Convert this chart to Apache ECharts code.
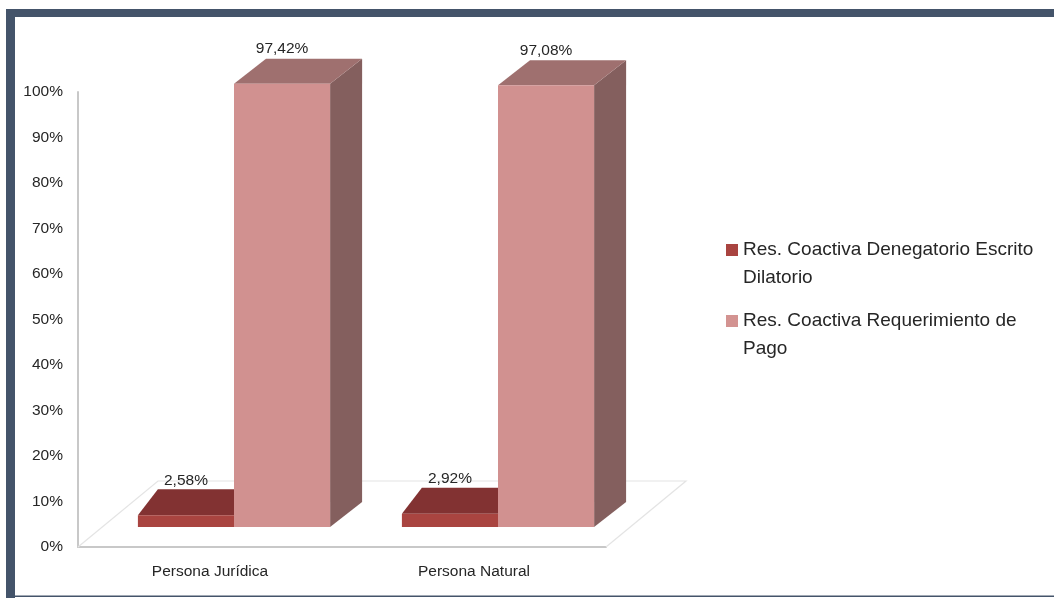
<!DOCTYPE html>
<html>
<head>
<meta charset="utf-8">
<script src="https://cdn.jsdelivr.net/npm/echarts@6/dist/echarts.min.js"></script>
<style>
  html, body { margin: 0; padding: 0; background: #ffffff; }
  #chart { position: absolute; left: 0; top: 0; width: 1054px; height: 598px; }
</style>
</head>
<body>
<div id="chart"></div>
<script>
// Categories and series values (percent)
const categories = ['Persona Jurídica', 'Persona Natural'];
const nameDenegatorio = 'Res. Coactiva Denegatorio Escrito Dilatorio';
const nameRequerimiento = 'Res. Coactiva Requerimiento de Pago';
const denegatorio = [2.58, 2.92];
const requerimiento = [97.42, 97.08];
// Value axis ticks
const yMin = 0, yMax = 100, yStep = 10;

const FONT = '"Liberation Sans", Arial, sans-serif';
const TEXT = '#262626';

// Oblique projection settings for the pseudo-3D boxes
const FRONT_SHIFT = [24, -20];   // bars stand a little behind the floor's front edge
const FLOOR_DEPTH = [80, -66];   // depth of the floor
const BAR_RATIO = 0.364;         // bar width as a share of the category band

function fmt(v) {
  return v.toFixed(2).replace('.', ',') + '%';
}

function boxRenderer(slot, depth, colors) {
  return function (params, api) {
    const cat = api.value(0);
    const val = api.value(1);
    const base = api.coord([cat, 0]);
    const top = api.coord([cat, val]);
    const band = api.size([1, 0])[0];
    const bw = band * BAR_RATIO;
    const cx = base[0] + FRONT_SHIFT[0];
    const x0 = slot === 0 ? cx - bw : cx;
    const x1 = x0 + bw;
    const yb = base[1] + FRONT_SHIFT[1];
    const yt = top[1] + FRONT_SHIFT[1];
    const dx = depth[0], dy = depth[1];
    return {
      type: 'group',
      children: [
        { type: 'polygon', shape: { points: [[x1, yt], [x1 + dx, yt + dy], [x1 + dx, yb + dy], [x1, yb]] },
          style: { fill: colors.side } },
        { type: 'polygon', shape: { points: [[x0, yt], [x1, yt], [x1 + dx, yt + dy], [x0 + dx, yt + dy]] },
          style: { fill: colors.top } },
        { type: 'rect', shape: { x: x0, y: yt, width: bw, height: yb - yt },
          style: { fill: colors.front } },
        { type: 'text', z2: 10,
          style: { text: fmt(val), x: (x0 + x1) / 2, y: yt - 35, align: 'center', verticalAlign: 'middle',
                   font: '15.5px ' + FONT, fill: TEXT } }
      ]
    };
  };
}

function floorRenderer(params, api) {
  const cs = params.coordSys;
  const fl = [cs.x, cs.y + cs.height];
  const fr = [cs.x + cs.width, cs.y + cs.height];
  const bl = [fl[0] + FLOOR_DEPTH[0], fl[1] + FLOOR_DEPTH[1]];
  const br = [fr[0] + FLOOR_DEPTH[0], fr[1] + FLOOR_DEPTH[1]];
  return {
    type: 'polyline',
    shape: { points: [fl, bl, br, fr] },
    style: { stroke: '#e4e4e4', lineWidth: 1.2, fill: null }
  };
}

const chart = echarts.init(document.getElementById('chart'), null, { renderer: 'canvas' });

chart.setOption({
  backgroundColor: '#ffffff',
  animation: false,
  textStyle: { fontFamily: FONT },
  graphic: [
    { type: 'rect', shape: { x: 6, y: 9, width: 1048, height: 8 }, style: { fill: '#44546a' }, z: 100 },
    { type: 'rect', shape: { x: 6, y: 9, width: 9, height: 589 }, style: { fill: '#44546a' }, z: 100 },
    { type: 'rect', shape: { x: 6, y: 595.5, width: 1048, height: 1.5 }, style: { fill: '#44546a' }, z: 100 }
  ],
  grid: { left: 78, top: 92, width: 528, height: 455, containLabel: false },
  legend: {
    orient: 'vertical',
    left: 721,
    top: 203,
    itemWidth: 12,
    itemHeight: 12,
    itemGap: -13,
    icon: 'rect',
    data: [nameDenegatorio, nameRequerimiento],
    // an empty first line keeps the marker level with the first text line
    formatter: function (name) { return '\n' + name; },
    textStyle: {
      fontFamily: FONT, fontSize: 19, color: TEXT,
      width: 296, overflow: 'break', lineHeight: 28
    }
  },
  xAxis: {
    type: 'category',
    data: categories,
    axisLine: { show: true, lineStyle: { color: '#c8c8c8', width: 2 } },
    axisTick: { show: false },
    axisLabel: { fontSize: 15.5, color: TEXT, margin: 17, fontFamily: FONT },
    splitLine: { show: false }
  },
  yAxis: {
    type: 'value',
    min: yMin, max: yMax, interval: yStep,
    axisLine: { show: true, lineStyle: { color: '#c8c8c8', width: 2 } },
    axisTick: { show: false },
    splitLine: { show: false },
    axisLabel: { formatter: '{value}%', fontSize: 15.5, color: TEXT, margin: 15, fontFamily: FONT }
  },
  series: [
    {
      type: 'custom', name: 'floor', silent: true, z: 1,
      renderItem: floorRenderer,
      data: [[0, 0]],
      encode: { x: 0, y: 1 }
    },
    {
      type: 'custom', name: nameDenegatorio, z: 2,
      itemStyle: { color: '#a94440' },
      renderItem: boxRenderer(0, [20, -26], { front: '#a94440', top: '#823232', side: '#6e2a2a' }),
      data: categories.map((c, i) => [i, denegatorio[i]]),
      encode: { x: 0, y: 1 }
    },
    {
      type: 'custom', name: nameRequerimiento, z: 3,
      itemStyle: { color: '#d39391' },
      renderItem: boxRenderer(1, [32, -25], { front: '#d19190', top: '#9f706f', side: '#845f5e' }),
      data: categories.map((c, i) => [i, requerimiento[i]]),
      encode: { x: 0, y: 1 }
    }
  ]
});
</script>
</body>
</html>
